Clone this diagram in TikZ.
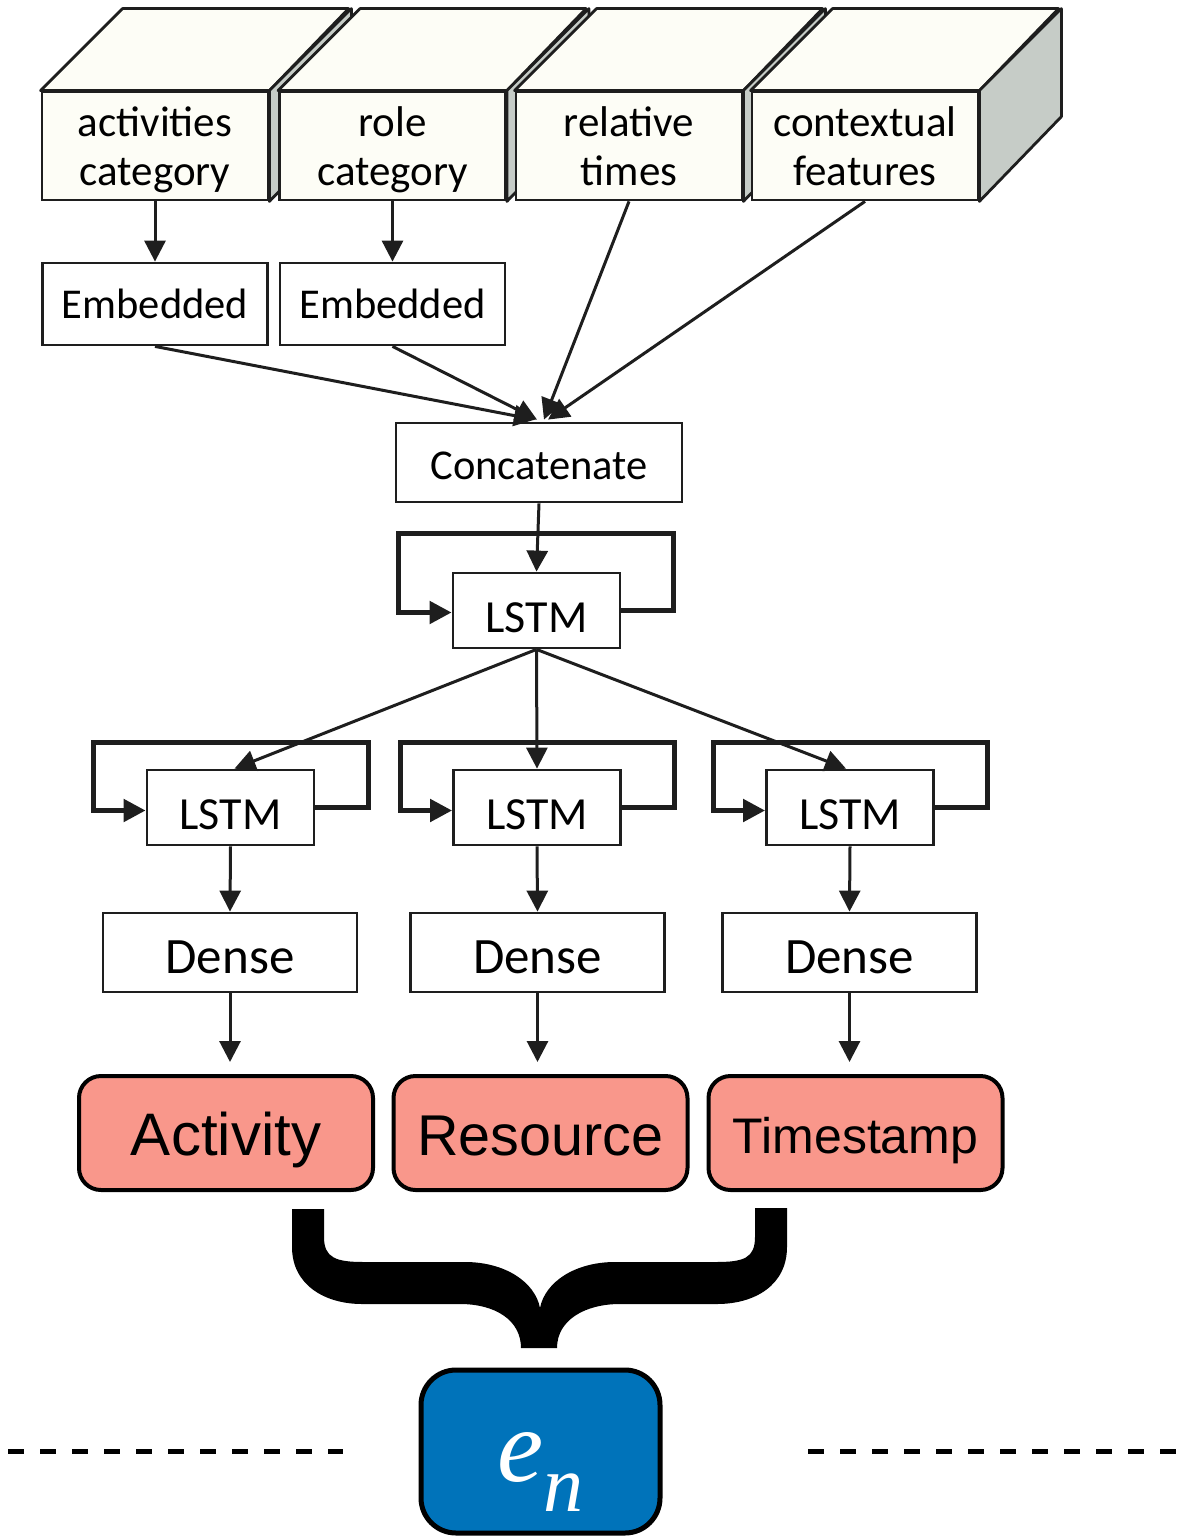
\documentclass[tikz,border=0pt]{standalone}
\usepackage{fontspec}
\setmainfont{Carlito}
\newfontfamily\arialf{Liberation Sans}
\newfontfamily\timesf{Liberation Serif}
\usetikzlibrary{arrows.meta,calc}
\definecolor{cream}{HTML}{FDFDF6}
\definecolor{sidegray}{HTML}{C6CCC7}
\definecolor{salmon}{HTML}{F9978B}
\definecolor{enblue}{HTML}{0073BA}
\definecolor{ink}{HTML}{1E1E1E}
\newcommand{\twolines}[2]{\rule{0pt}{42pt}#1\\#2\rule[-12pt]{0pt}{12pt}}
\begin{document}
\begin{tikzpicture}[x=1pt,y=-1pt,
  inbox/.style={draw=ink,line width=2.8pt,fill=cream,inner sep=0pt,align=center,
    font=\fontsize{43}{49}\selectfont,minimum width=226pt,minimum height=108pt},
  face/.style={draw=ink,line width=2.8pt,line join=round},
  plain/.style={draw=ink,line width=2.8pt,fill=white,inner sep=0pt},
  arr/.style={draw=ink,line width=3pt,-{Triangle[length=21pt,width=21pt]}},
  loopline/.style={draw=ink,line width=5pt,-{Triangle[length=22pt,width=22pt]}},
  outbox/.style={draw=black,line width=4pt,fill=salmon,rounded corners=22pt,
    minimum width=294pt,minimum height=114pt,inner sep=0pt,text=black,text depth=0pt},
  lstm/.style={plain,minimum width=167pt,minimum height=75pt,font=\fontsize{46}{46}\selectfont,
    text height=43pt,text depth=0pt},
  dense/.style={plain,minimum width=254pt,minimum height=79pt,font=\fontsize{51}{51}\selectfont,
    text height=42pt,text depth=0pt},
  dashline/.style={draw=black,line width=5pt,dash pattern=on 16pt off 16pt}
]
\useasboundingbox (0,0) rectangle (1193,1536);

% --- 3D input boxes ---
\node[inbox] (b1) at (155,146) {\twolines{activities}{category}};
\filldraw[face,fill=cream] (b1.north west) -- ++(82,-82) -- ++(226,0) -- (b1.north east) -- cycle;
\filldraw[face,fill=sidegray] (b1.north east) -- ++(82,-82) -- ++(0,108) -- (b1.south east) -- cycle;
\node[inbox] (b2) at (392.5,146) {\twolines{role}{category}};
\filldraw[face,fill=cream] (b2.north west) -- ++(82,-82) -- ++(226,0) -- (b2.north east) -- cycle;
\filldraw[face,fill=sidegray] (b2.north east) -- ++(82,-82) -- ++(0,108) -- (b2.south east) -- cycle;
\node[inbox] (b3) at (629,146) {\twolines{relative}{times}};
\filldraw[face,fill=cream] (b3.north west) -- ++(82,-82) -- ++(226,0) -- (b3.north east) -- cycle;
\filldraw[face,fill=sidegray] (b3.north east) -- ++(82,-82) -- ++(0,108) -- (b3.south east) -- cycle;
\node[inbox] (b4) at (865,146) {\twolines{contextual}{features}};
\filldraw[face,fill=cream] (b4.north west) -- ++(82,-82) -- ++(226,0) -- (b4.north east) -- cycle;
\filldraw[face,fill=sidegray] (b4.north east) -- ++(82,-82) -- ++(0,108) -- (b4.south east) -- cycle;

% --- Embedded ---
\node[plain,minimum width=225pt,minimum height=82pt,font=\fontsize{42.5}{42.5}\selectfont] (e1) at (155,304) {Embedded};
\node[plain,minimum width=225pt,minimum height=82pt,font=\fontsize{42.5}{42.5}\selectfont] (e2) at (392.5,304) {Embedded};
\draw[arr] (b1.south) -- (e1.north);
\draw[arr] (b2.south) -- (e2.north);

% --- Concatenate ---
\node[plain,minimum width=286pt,minimum height=79pt,font=\fontsize{42.5}{42.5}\selectfont,
  text height=33pt,text depth=0pt] (cc) at (539,462.5) {Concatenate};
\draw[arr] (e1.south) -- ($(cc.north)+(-4,-2)$);
\draw[arr] (e2.south) -- ($(cc.north)+(-2,-2)$);
\draw[arr] (b3.south) -- ($(cc.north)+(5,-2)$);
\draw[arr] (b4.south) -- ($(cc.north)+(9,-2)$);

% --- main LSTM ---
\node[lstm] (l0) at (536.5,610.5) {LSTM};
\draw[arr] (cc.south) -- (l0.north);
\draw[loopline] (l0.east) -- ++(52,0) |- ($(l0.north west)+(-53,-38)$) |- ($(l0.west)+(0,2)$);

% --- branch LSTMs ---
\node[lstm] (l1) at (230.5,807.5) {LSTM};
\node[lstm] (l2) at (537,807.5) {LSTM};
\node[lstm] (l3) at (850,807.5) {LSTM};
\draw[arr] (l0.south) -- ($(l1.north)+(4,0)$);
\draw[arr] (l0.south) -- (l2.north);
\draw[arr] (l0.south) -- ($(l3.north)+(-4,0)$);
\foreach \n in {l1,l2,l3}{
  \draw[loopline] (\n.east) -- ++(53,0) |- ($(\n.north west)+(-52,-26)$) |- ($(\n.west)+(0,3)$);
}

% --- Dense ---
\node[dense] (d1) at (230,952.5) {Dense};
\node[dense] (d2) at (537.5,952.5) {Dense};
\node[dense] (d3) at (849.5,952.5) {Dense};
\draw[arr] (l1.south) -- (d1.north);
\draw[arr] (l2.south) -- (d2.north);
\draw[arr] (l3.south) -- (d3.north);

% --- outputs ---
\node[outbox,font=\arialf\fontsize{60}{60}\selectfont,text height=45pt] (oa) at (226,1133) {Activity};
\node[outbox,font=\arialf\fontsize{57.5}{57.5}\selectfont,text height=44pt] (orr) at (540.5,1133) {Resource};
\node[outbox,font=\arialf\fontsize{50}{50}\selectfont,text height=40pt] (ot) at (855.5,1133) {Timestamp};
\draw[arr,shorten >=12pt] (d1.south) -- (d1.south |- oa.north);
\draw[arr,shorten >=12pt] (d2.south) -- (d2.south |- orr.north);
\draw[arr,shorten >=12pt] (d3.south) -- (d3.south |- ot.north);

% --- brace ---
\fill[black] (292,1209) -- (324,1209) -- (324,1237)
  .. controls (324,1258) and (336,1262) .. (364,1262)
  -- (465,1262)
  .. controls (505,1262) and (535,1282) .. (540,1308)
  .. controls (545,1282) and (575,1262) .. (615,1262)
  -- (716,1262)
  .. controls (744,1262) and (755,1258) .. (755,1237)
  -- (755,1208) -- (787,1208) -- (787,1247)
  .. controls (787,1285) and (755,1304) .. (717,1304)
  -- (620,1304)
  .. controls (585,1304) and (557,1320) .. (557,1348)
  -- (521,1348)
  .. controls (521,1320) and (495,1304) .. (460,1304)
  -- (362,1304)
  .. controls (325,1304) and (292,1285) .. (292,1247) -- cycle;

% --- e_n ---
\node[draw=black,line width=5pt,fill=enblue,rounded corners=35pt,minimum width=239pt,minimum height=163pt,
  inner sep=0pt,text=white,text height=60pt,text depth=0pt,font=\timesf\itshape\fontsize{104}{104}\selectfont]
  (en) at (540.5,1451.5) {e\raisebox{-30pt}{\fontsize{80}{80}\selectfont n}};

\coordinate (dl1) at (8,1451);
\coordinate (dl2) at (343,1451);
\coordinate (dr1) at (808,1451);
\coordinate (dr2) at (1180,1451);
\draw[dashline] (dl1) -- (dl2);
\draw[dashline] (dr1) -- (dr2);
\end{tikzpicture}
\end{document}
